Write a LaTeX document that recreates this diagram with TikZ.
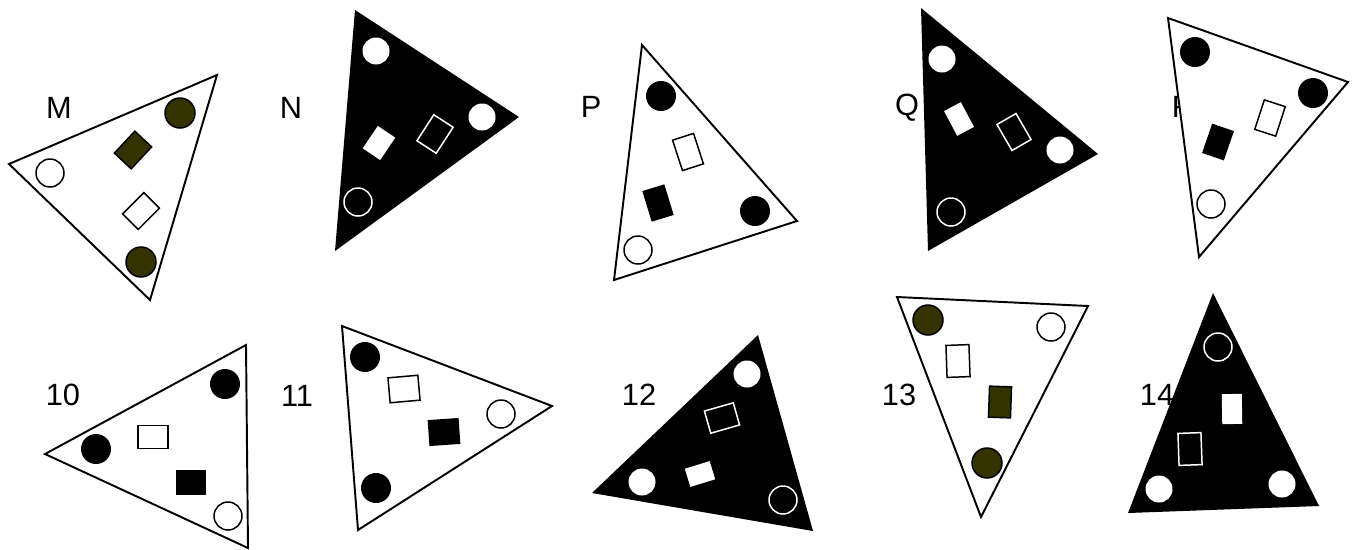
\documentclass[tikz,border=0pt]{standalone}
\usepackage{fontspec}
\setmainfont{Liberation Sans}
\definecolor{olivedark}{RGB}{51,51,0}
\tikzset{
  tri/.style={draw=black,line width=1.1pt,fill=white,line join=miter},
  btri/.style={fill=black},
  wo/.style={draw=black,line width=0.85pt,fill=white},
  ol/.style={draw=black,line width=0.85pt,fill=olivedark},
  bk/.style={fill=black},
  wf/.style={fill=white},
  wl/.style={draw=white,line width=0.85pt},
  lab/.style={font=\fontsize{17.5}{20}\selectfont,inner sep=0pt}
}
\begin{document}
\begin{tikzpicture}[x=0.02cm,y=-0.02cm]
\useasboundingbox (0,0) rectangle (1358,549);
% M
\node[lab] (labM) at (59,108) {M};
\draw[tri] (9,164)--(217,75)--(150,300)--cycle;
\draw[wo] (50,173) circle[radius=14];
\draw[ol] (180,113) circle[radius=15];
\draw[ol] (141,262) circle[radius=15];
\draw[ol,shift={(133,150)},rotate=-43] (-11.5,-15) rectangle (11.5,15);
\draw[wo,shift={(141,211)},rotate=-45] (-11,-15) rectangle (11,15);
% N
\node[lab] (labN) at (291,108) {N};
\fill[btri] (355,10)--(519,117)--(335,251)--cycle;
\fill[wf] (376,51) circle[radius=13.5];
\fill[wf] (482,117) circle[radius=13.5];
\draw[wl] (358,202) circle[radius=14];
\fill[wf,shift={(379,143)},rotate=-34] (-10.5,-13.5) rectangle (10.5,13.5);
\draw[wl,shift={(435,134)},rotate=-33] (-11.5,-15.5) rectangle (11.5,15.5);
% P
\node[lab] (labP) at (591,107) {P};
\draw[tri] (642,45)--(797,221)--(614,280)--cycle;
\fill[bk] (661,96) circle[radius=15];
\fill[bk] (755,211) circle[radius=15];
\draw[wo] (638,250) circle[radius=14];
\draw[wo,shift={(688,152)},rotate=18] (-11,-16) rectangle (11,16);
\fill[bk,shift={(658,203)},rotate=17] (-11.5,-16) rectangle (11.5,16);
% Q
\node[lab] (labQ) at (907,108) {Q};
\fill[btri] (921,8)--(1098,154)--(928,251)--cycle;
\fill[wf] (942,59) circle[radius=13.5];
\fill[wf] (1060,150) circle[radius=13.5];
\draw[wl] (951,212) circle[radius=14];
\fill[wf,shift={(959,119)},rotate=28] (-9.5,-14) rectangle (9.5,14);
\draw[wl,shift={(1014,132)},rotate=30] (-11,-15) rectangle (11,15);
% R
\node[lab] (labR) at (1183,107) {R};
\draw[tri] (1168,18)--(1348,82)--(1199,257)--cycle;
\fill[bk] (1195,52) circle[radius=15];
\fill[bk] (1313,93) circle[radius=15];
\draw[wo] (1211,204) circle[radius=14];
\draw[wo,shift={(1270,118)},rotate=-18] (-11,-15.5) rectangle (11,15.5);
\fill[bk,shift={(1218,142)},rotate=-19] (-11.5,-15.5) rectangle (11.5,15.5);
% 10
\node[lab] (lab10) at (63,395) {10};
\draw[tri] (45,454)--(246,345)--(248,548)--cycle;
\fill[bk] (96,449) circle[radius=15];
\fill[bk] (225,384) circle[radius=15];
\draw[wo] (228,516) circle[radius=14];
\draw[wo] (138,425.5) rectangle (168,448.5);
\fill[bk] (176,469.5) rectangle (206,494.5);
% 11
\node[lab] (lab11) at (297,396) {11};
\draw[tri] (342,326)--(552,406)--(358,530)--cycle;
\fill[bk] (365,357) circle[radius=15];
\fill[bk] (376,488) circle[radius=15];
\draw[wo] (501,414) circle[radius=14];
\draw[wo,shift={(404,389)},rotate=5] (-15,-12.5) rectangle (15,12.5);
\fill[bk,shift={(444,432)},rotate=4] (-15.5,-13) rectangle (15.5,13);
% 12
\node[lab] (lab12) at (639,395) {12};
\fill[btri] (758,335)--(592,493)--(813,531)--cycle;
\fill[wf] (747,374) circle[radius=13.5];
\fill[wf] (642,482) circle[radius=13.5];
\draw[wl] (783,500) circle[radius=14];
\draw[wl,shift={(722,418)},rotate=16] (-15,-11.5) rectangle (15,11.5);
\fill[wf,shift={(700,474)},rotate=17] (-13,-9.5) rectangle (13,9.5);
% 13
\node[lab] (lab13) at (899,395) {13};
\draw[tri] (897,297)--(1088,306)--(981,517)--cycle;
\draw[ol] (928,320) circle[radius=15];
\draw[wo] (1051,327) circle[radius=14];
\draw[ol] (987,463) circle[radius=15];
\draw[wo,shift={(958,361)},rotate=2] (-11.5,-16) rectangle (11.5,16);
\draw[ol,shift={(1000,402)},rotate=-2] (-11,-15.5) rectangle (11,15.5);
% 14
\node[lab] (lab14) at (1157,395) {14};
\fill[btri] (1213,293)--(1128,513)--(1319,506)--cycle;
\draw[wl] (1218,347) circle[radius=14];
\fill[wf] (1159,489) circle[radius=13.5];
\fill[wf] (1282,484) circle[radius=13.5];
\fill[wf,shift={(1232,409)},rotate=1] (-10,-15) rectangle (10,15);
\draw[wl,shift={(1190,449)},rotate=2] (-11.5,-16) rectangle (11.5,16);
\end{tikzpicture}
\end{document}
